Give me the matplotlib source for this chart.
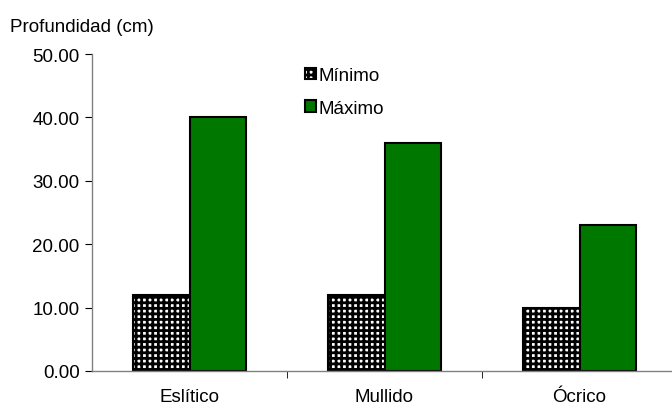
import numpy as np
import matplotlib.pyplot as plt

plt.rcParams['font.family'] = ['Liberation Sans', 'DejaVu Sans']
plt.rcParams['hatch.linewidth'] = 2.0

categorias = ["Eslítico", "Mullido", "Ócrico"]
minimo = [12.0, 12.0, 10.0]
maximo = [40.0, 36.0, 23.0]

x = np.arange(len(categorias))
ancho = 0.29

fig = plt.figure(figsize=(6.72, 4.10), dpi=100)
ax = fig.add_axes([92 / 672, 1 - 372 / 410, 580 / 672, (372 - 55) / 410])

ax.bar(x - ancho / 2, minimo, ancho, facecolor="white", edgecolor="black",
       hatch="+++", linewidth=1.5, label="Mínimo")
ax.bar(x + ancho / 2, maximo, ancho, facecolor="#007800", edgecolor="black",
       linewidth=1.5, label="Máximo")

ax.set_ylim(0, 50)
ax.set_xlim(-0.5, -0.5 + 580 / 195)
ax.set_yticks(np.arange(0, 51, 10))
ax.set_yticklabels([f"{v:.2f}" for v in np.arange(0, 51, 10)], fontsize=13.5)
ax.set_xticks(x)
ax.set_xticklabels(categorias, fontsize=13.5)
ax.tick_params(axis="x", which="major", length=0, pad=12)
ax.set_xticks([0.5, 1.5], minor=True)
ax.tick_params(axis="x", which="minor", length=5, direction="out", color="black")
ax.tick_params(axis="y", length=5, direction="out", color="black", pad=4)

for s in ["top", "right"]:
    ax.spines[s].set_visible(False)
for s in ["left", "bottom"]:
    ax.spines[s].set_color("#808080")
    ax.spines[s].set_linewidth(1.0)

ax.legend(loc="upper left", bbox_to_anchor=(0.338, 1.012), frameon=False,
          fontsize=13.5, handlelength=0.6, handleheight=0.6, handletextpad=0.15,
          labelspacing=0.85)

fig.text(10 / 672, 1 - 27 / 410, "Profundidad (cm)", fontsize=13.5, va="center")

fig.savefig("out.png", dpi=100)
